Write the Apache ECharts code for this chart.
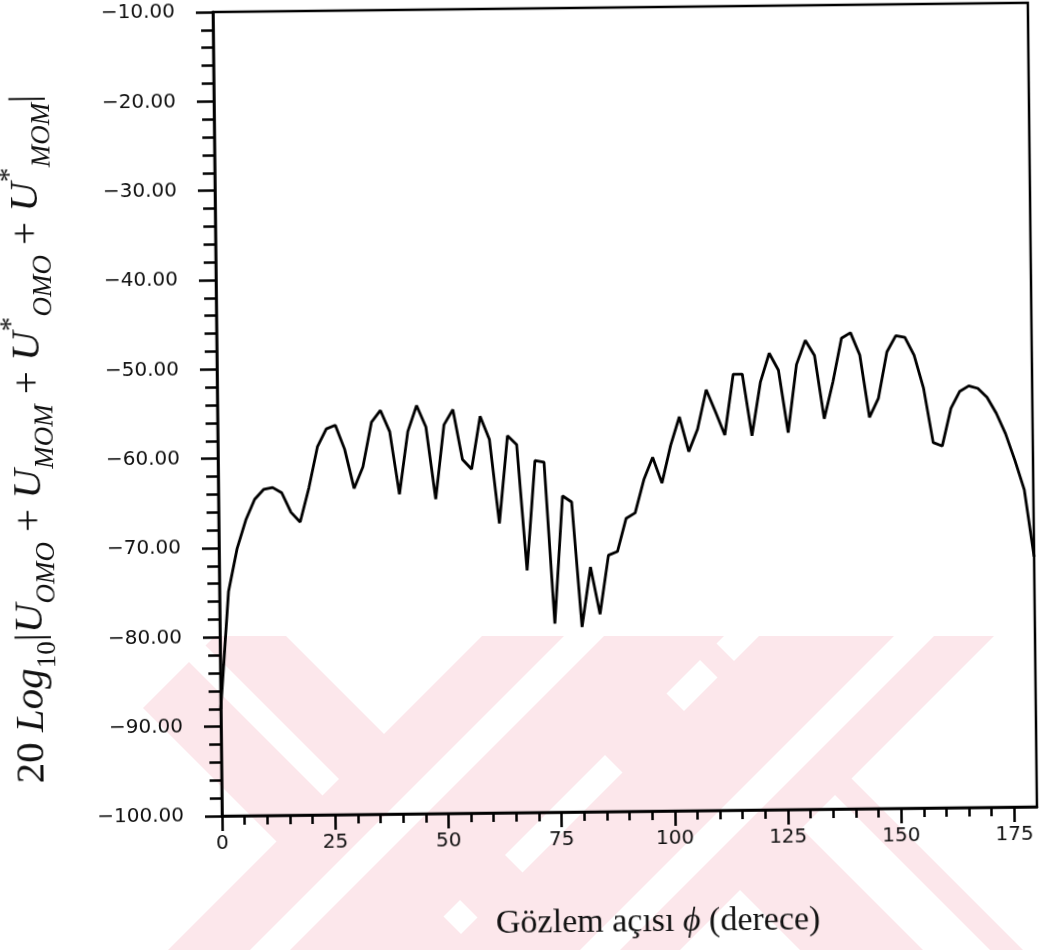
<!DOCTYPE html>
<html>
<head>
<meta charset="utf-8">
<script src="https://cdn.jsdelivr.net/npm/echarts@6/dist/echarts.min.js"></script>
<style>
  html, body { margin: 0; padding: 0; background: #fff; }
  #stage { position: relative; width: 1039px; height: 950px; overflow: hidden; }
  #mark, #chart { position: absolute; left: 0; top: 0; width: 1039px; height: 950px; }
  /* the plotted sheet sits a little askew on the page */
  #chart { transform: rotate(-0.65deg); transform-origin: 222px 816px; }
</style>
</head>
<body>
<div id="stage">
  <div id="mark"></div>
  <div id="chart"></div>
</div>
<script>
// Observation angle (degrees)
const angles = [0, 2, 4, 6, 8, 10, 12, 14, 16, 18, 20, 22, 24, 26, 28, 30, 32, 34, 36, 38, 40,
  42, 44, 46, 48, 50, 52, 54, 56, 58, 60, 62, 64, 66, 68, 70, 72, 74, 76, 78, 80,
  82, 84, 86, 88, 90, 92, 94, 96, 98, 100, 102, 104, 106, 108, 110, 112, 114, 116, 118, 120,
  122, 124, 126, 128, 130, 132, 134, 136, 138, 140, 142, 144, 146, 148, 150, 152, 154, 156, 158, 160,
  162, 164, 166, 168, 170, 172, 174, 176, 178, 180];

// 20 log10 |U_OMO + U_MOM + U*_OMO + U*_MOM|
const levels = [-88.0, -74.9, -70.1, -66.9, -64.6, -63.5, -63.3, -63.9, -66.1, -67.2, -63.4,
  -58.8, -56.8, -56.4, -59.1, -63.5, -61.1, -56.1, -54.8, -57.2, -64.2,
  -57.2, -54.3, -56.7, -64.8, -56.5, -54.8, -60.4, -61.5, -55.6, -58.2,
  -67.6, -57.8, -58.8, -72.9, -60.6, -60.8, -78.9, -64.6, -65.3, -79.3,
  -72.6, -77.9, -71.3, -70.9, -67.2, -66.6, -62.9, -60.4, -63.3, -59.1,
  -55.9, -59.8, -57.3, -52.9, -55.4, -58.0, -51.2, -51.2, -58.1, -52.1,
  -48.9, -50.8, -57.8, -50.2, -47.5, -49.2, -56.3, -52.2, -47.3, -46.7,
  -49.2, -56.2, -54.1, -48.9, -47.1, -47.3, -49.3, -53.0, -59.1, -59.5,
  -55.3, -53.4, -52.8, -53.1, -54.1, -55.9, -58.2, -61.2, -64.5, -72.0];

// Axis ticks
const xMajorTicks = [0, 25, 50, 75, 100, 125, 150, 175];
const xMinorTicks = [5, 10, 15, 20, 30, 35, 40, 45, 55, 60, 65, 70, 80, 85, 90, 95,
  105, 110, 115, 120, 130, 135, 140, 145, 155, 160, 165, 170];

const xTitle = '{n|Gözlem açısı }{i|ϕ}{n| (derece)}';
const yTitle = '{n|20 }{i|Log}{s|10}{n||}{i|U}{si|OMO}{n| + }{i|U}{si|MOM}{n| + }' +
  '{i|U}{sup|*}{si|OMO}{n| + }{i|U}{sup|*}{si|MOM}{n||}';

// Page watermark, in page pixels: pale diagonal bands with a thin white stroke in each.
const markTop = 636, markBottom = 950;
const markPink = '#fce7eb';
// dir 1: band falls to the right (x - y in range); dir -1: rises (x + y in range)
const markBands = [
  { dir: 1, band: [-565, -350], gap: [-473, -440], leftCut: 851 },
  { dir: 1, band: [-150, 73], gap: [-27, 40] },
  { dir: -1, band: [1118, 1360], gap: [1200, 1240] },
  { dir: -1, band: [1395, 1630], gap: [1530, 1570] }
];

function bandPoints(dir, lo, hi, leftCut) {
  const xAt = (c, y) => dir === 1 ? c + y : c - y;
  if (leftCut) {
    // falling band trimmed on its upper-left by the line x + y = leftCut
    const yA = (leftCut - lo) / 2;
    return [[leftCut - markTop, markTop], [xAt(hi, markTop), markTop],
      [xAt(hi, markBottom), markBottom], [xAt(lo, markBottom), markBottom],
      [xAt(lo, yA), yA]];
  }
  return [[xAt(lo, markTop), markTop], [xAt(hi, markTop), markTop],
    [xAt(hi, markBottom), markBottom], [xAt(lo, markBottom), markBottom]];
}

const watermark = [];
markBands.forEach(b => {
  watermark.push({ type: 'polygon', silent: true,
    shape: { points: bandPoints(b.dir, b.band[0], b.band[1], b.leftCut) }, style: { fill: markPink } });
  watermark.push({ type: 'polygon', silent: true,
    shape: { points: bandPoints(b.dir, b.gap[0], b.gap[1]) }, style: { fill: '#ffffff' } });
});

const markChart = echarts.init(document.getElementById('mark'), null, { renderer: 'canvas' });
markChart.setOption({ backgroundColor: '#fff', animation: false, graphic: watermark });

const chart = echarts.init(document.getElementById('chart'), null, { renderer: 'canvas' });

const labelFont = { fontFamily: 'DejaVu Sans', fontSize: 20, color: '#111' };
const serif = 'Liberation Serif';

const option = {
  backgroundColor: 'transparent',
  animation: false,
  grid: {
    left: 222, top: 12, right: 2, bottom: 134,
    show: true, borderColor: '#000', borderWidth: 2.5, backgroundColor: 'transparent'
  },
  xAxis: [
    {
      type: 'value', min: 0, max: 180, position: 'bottom',
      axisLine: { show: true, lineStyle: { color: '#000', width: 2.5 } },
      axisTick: { show: true, customValues: xMajorTicks, length: 15, lineStyle: { color: '#000', width: 2.5 } },
      axisLabel: Object.assign({ customValues: xMajorTicks, margin: 18 }, labelFont),
      splitLine: { show: false }
    },
    {
      type: 'value', min: 0, max: 180, position: 'bottom',
      axisLine: { show: false },
      axisTick: { show: true, customValues: xMinorTicks, length: 9, lineStyle: { color: '#000', width: 2.5 } },
      axisLabel: { show: false },
      splitLine: { show: false }
    }
  ],
  yAxis: {
    type: 'value', min: -100, max: -10, interval: 10,
    axisLine: { show: true, lineStyle: { color: '#000', width: 2.5 } },
    axisTick: { show: true, length: 17, lineStyle: { color: '#000', width: 2.5 } },
    minorTick: { show: true, splitNumber: 5, length: 12, lineStyle: { color: '#000', width: 2.5 } },
    axisLabel: Object.assign({
      margin: 38,
      formatter: v => (v < 0 ? '\u2212' : '') + Math.abs(v).toFixed(2)
    }, labelFont),
    splitLine: { show: false },
    minorSplitLine: { show: false }
  },
  graphic: [
    {
      type: 'text', x: 657, y: 927,
      style: {
        text: xTitle, align: 'center', verticalAlign: 'middle',
        rich: {
          n: { fontFamily: serif, fontSize: 34, fill: '#111' },
          i: { fontFamily: serif, fontSize: 34, fontStyle: 'italic', fill: '#111' }
        }
      }
    },
    {
      type: 'text', x: 33, y: 437, rotation: Math.PI / 2,
      style: {
        text: yTitle, align: 'center', verticalAlign: 'middle',
        rich: {
          n: { fontFamily: serif, fontSize: 41, fill: '#111', lineHeight: 60, verticalAlign: 'middle' },
          i: { fontFamily: serif, fontSize: 41, fontStyle: 'italic', fill: '#111', lineHeight: 60, verticalAlign: 'middle' },
          s: { fontFamily: serif, fontSize: 27, fill: '#111', lineHeight: 60, verticalAlign: 'bottom' },
          si: { fontFamily: serif, fontSize: 27, fontStyle: 'italic', fill: '#111', lineHeight: 60, verticalAlign: 'bottom' },
          sup: { fontFamily: serif, fontSize: 29, fill: '#111', lineHeight: 60, verticalAlign: 'top' }
        }
      }
    }
  ],
  series: [
    {
      type: 'line',
      xAxisIndex: 0,
      data: angles.map((a, i) => [a, levels[i]]),
      showSymbol: false,
      symbol: 'none',
      smooth: false,
      lineStyle: { color: '#000', width: 2.8 },
      z: 5
    }
  ]
};

chart.setOption(option);
</script>
</body>
</html>
